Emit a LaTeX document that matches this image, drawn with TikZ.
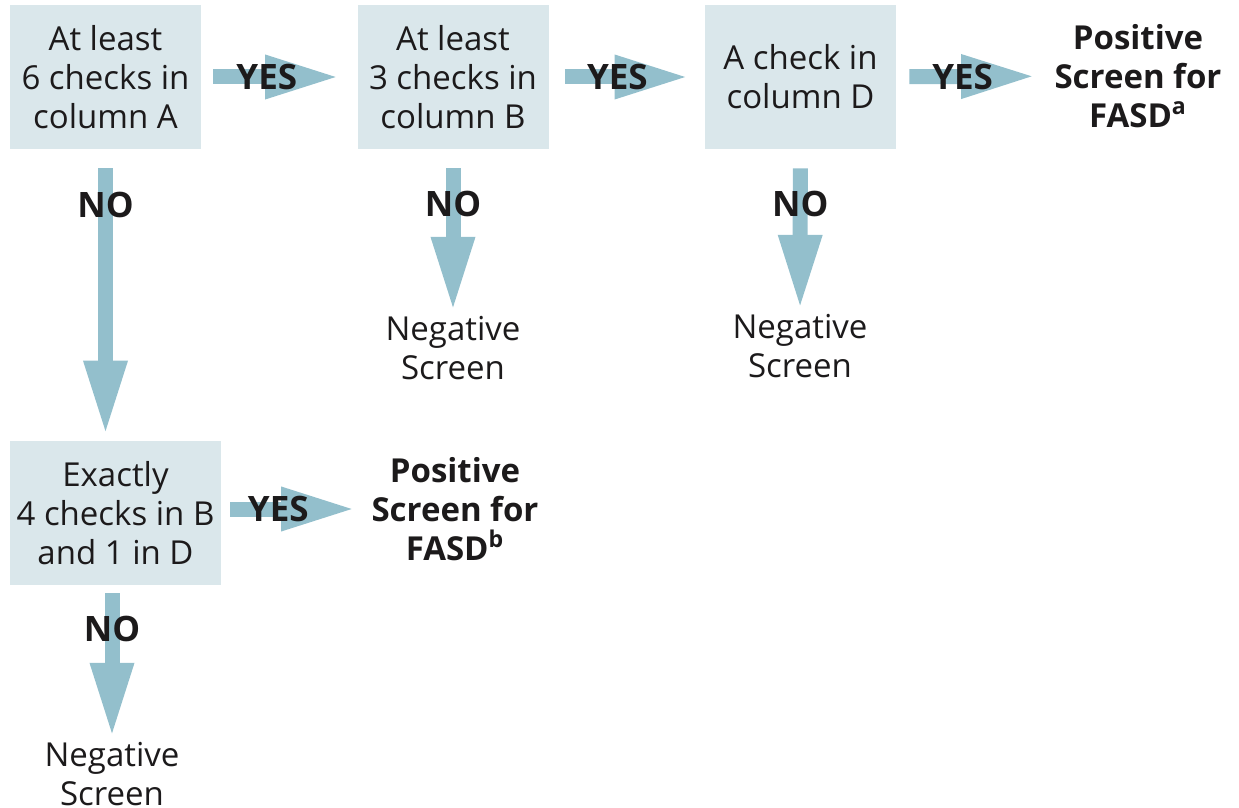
\documentclass[tikz,border=0pt]{standalone}
\usepackage{fontspec}
\setmainfont{Open Sans}
\usetikzlibrary{arrows.meta}
\definecolor{boxfill}{HTML}{DAE7EB}
\definecolor{flowblue}{HTML}{93BFCC}
\definecolor{ink}{HTML}{1C1A1B}

\begin{document}
\begin{tikzpicture}
      [x=0.5pt, y=-0.5pt,
      every node/.style={text=ink, align=center, font=\fontsize{16.5}{19.5}\selectfont},
      test/.style={fill=boxfill, minimum width=95.5pt, minimum height=72pt, inner sep=0pt},
      result/.style={inner sep=0pt},
      strong/.style={font=\fontsize{16.5}{19.5}\selectfont\bfseries},
      answer/.style={font=\fontsize{17.5}{19.5}\selectfont\bfseries},
      flow/.style={draw=flowblue, line width=7.5pt, -{Triangle[length=37.5pt, width=20pt]}}]

      \useasboundingbox (0,0) rectangle (1239,808);

      \node[test] (six) at (105.5,77) {At least\\6 checks in\\column A};
      \node[test] (three) at (453,77) {At least\\3 checks in\\column B};
      \node[test] (colD) at (800.5,77) {A check in\\column D};
      \node[test, minimum width=105.5pt] (four) at (115.5,513) {Exactly\\4 checks in B\\and 1 in D};
      \node[result, strong] (posA) at (1138,76) {Positive\\Screen for\\FASD\textsuperscript{a}};
      \node[result, strong] (posB) at (455,509) {Positive\\Screen for\\FASD\textsuperscript{b}};
      \node[result] (negB) at (453,348) {Negative\\Screen};
      \node[result] (negD) at (800,346) {Negative\\Screen};
      \node[result] (negE) at (112,774) {Negative\\Screen};

      % yes
      \draw[flow, shorten <=6pt, shorten >=8.5pt] (six) -- (three) node[answer, pos=.42] {YES};
      \draw[flow, shorten <=8pt, shorten >=7.5pt] (three) -- (colD) node[answer, pos=.44] {YES};
      \draw[flow, shorten <=6.5pt, shorten >=9pt] (colD) -- (posA) node[answer, pos=.42] {YES};
      \draw[flow, shorten <=4.5pt, shorten >=7.5pt] (four.east |- posB) -- (posB) node[answer, pos=.38] {YES};

      % no
      \draw[flow, shorten <=9.5pt, shorten >=2.5pt] (six.south) -- (six.south |- four.north) node[answer, pos=.19] {NO};
      \draw[flow, shorten <=9.5pt, shorten >=2pt] (three) -- (negB) node[answer, pos=.33] {NO};
      \draw[flow, shorten <=9.5pt, shorten >=2pt] (colD) -- (negD) node[answer, pos=.33] {NO};
      \draw[flow, shorten <=4pt, shorten >=2pt] (negE.north |- four.south) -- (negE) node[answer, pos=.28] {NO};
    \end{tikzpicture}
\end{document}
